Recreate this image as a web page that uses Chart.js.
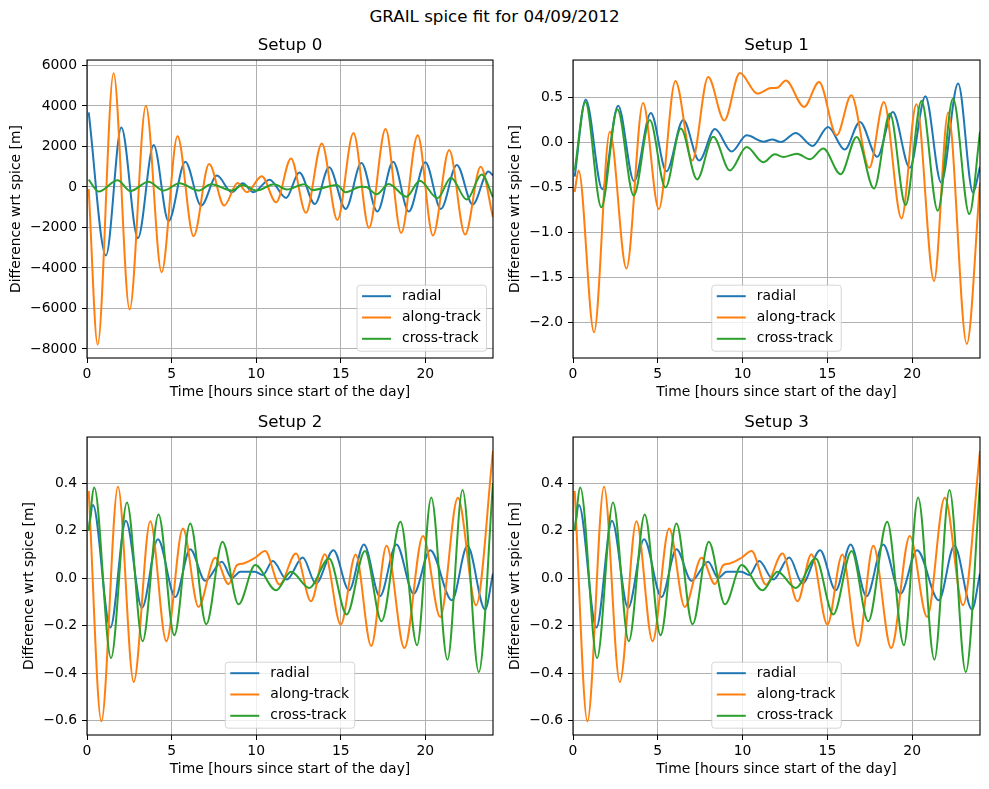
<!DOCTYPE html>
<html>
<head>
<meta charset="utf-8">
<script src="https://cdn.jsdelivr.net/npm/chart.js@4"></script>
<style>
  html, body { margin: 0; padding: 0; background: #fff; }
  body { width: 989px; height: 789px; position: relative; overflow: hidden; font-family: "DejaVu Sans", sans-serif; }
  #suptitle { position: absolute; left: 0; top: 6px; width: 989px; text-align: center; font-size: 16.7px; line-height: 20px; color: #000; }
  canvas { position: absolute; }
</style>
</head>
<body>
<div id="suptitle">GRAIL spice fit for 04/09/2012</div>
<canvas id="c0"></canvas>
<canvas id="c1"></canvas>
<canvas id="c2"></canvas>
<canvas id="c3"></canvas>
<script>
// ── Data: [hours, difference] at the turning points ──
const seriesLabels = ['radial', 'along-track', 'cross-track'];
const xTicks = [0, 5, 10, 15, 20];

const setup0Radial = [[0.1,3680],[1.12,-3385],[2.03,2940],[3.01,-2530],[3.94,2070],[4.82,-1690],[5.81,1250],[6.75,-920],[7.68,560],[8.56,-260],[9.21,180],[9.84,-260],[10.79,360],[11.77,-540],[12.55,720],[13.47,-840],[14.31,970],[15.29,-1085],[16.22,1180],[17.16,-1215],[18.1,1250],[19.02,-1215],[20.0,1215],[20.92,-1085],[21.86,1085],[22.8,-870],[23.73,760],[24.0,560]];
const setup0Along  = [[0.1,-100],[0.63,-7790],[1.57,5620],[2.52,-6060],[3.48,4010],[4.41,-4210],[5.35,2500],[6.3,-2430],[7.22,1130],[8.11,-920],[8.9,200],[9.45,-260],[10.33,530],[11.18,-760],[12.06,1410],[12.94,-1280],[13.88,2150],[14.8,-1630],[15.75,2660],[16.67,-2020],[17.65,2860],[18.57,-2270],[19.55,2560],[20.45,-2400],[21.41,1820],[22.35,-2350],[23.27,1000],[24.0,-1500]];
const setup0Cross  = [[0.1,360],[0.69,-230],[1.81,330],[2.56,-200],[3.64,260],[4.53,-180],[5.47,180],[6.59,-180],[7.34,130],[8.56,-180],[9.19,100],[10.04,-180],[11.06,130],[11.81,-130],[12.84,130],[13.33,-150],[14.76,100],[15.29,-260],[16.2,10],[16.5,0],[17.12,-360],[17.84,150],[18.88,-480],[19.67,310],[20.73,-560],[21.51,460],[22.45,-620],[23.33,610],[24.0,-510]];
const yTicks0 = [-8000, -6000, -4000, -2000, 0, 2000, 4000, 6000];

const setup1Radial = [[0.1,-0.38],[0.75,0.48],[1.73,-0.52],[2.66,0.41],[3.6,-0.43],[4.59,0.33],[5.51,-0.32],[6.5,0.25],[7.44,-0.2],[8.37,0.15],[9.35,-0.1],[10.24,0.08],[11.26,0.01],[11.75,0.035],[12.25,0.005],[13.14,0.107],[14.12,-0.037],[15.04,0.174],[16.02,-0.078],[16.92,0.23],[17.94,-0.159],[18.86,0.341],[19.86,-0.281],[20.78,0.515],[21.71,-0.444],[22.71,0.656],[23.59,-0.556],[24.0,-0.27]];
const setup1Along  = [[0.1,-0.55],[0.33,-0.31],[1.24,-2.11],[2.17,0.12],[3.15,-1.4],[4.13,0.44],[5.06,-0.74],[6.04,0.685],[7.03,-0.2],[7.97,0.73],[8.92,0.245],[9.84,0.775],[10.87,0.545],[11.67,0.607],[12.05,0.61],[12.55,0.69],[13.63,0.396],[14.51,0.674],[15.55,0.081],[16.41,0.526],[17.47,-0.281],[18.33,0.452],[19.37,-0.844],[20.25,0.426],[21.29,-1.541],[22.12,0.333],[23.22,-2.24],[24.0,-0.45]];
const setup1Cross  = [[0.1,-0.31],[0.73,0.45],[1.67,-0.72],[2.62,0.37],[3.58,-0.59],[4.53,0.25],[5.45,-0.5],[6.36,0.155],[7.32,-0.41],[8.27,0.065],[9.25,-0.31],[10.24,-0.05],[11.22,-0.22],[11.9,-0.13],[12.4,-0.16],[13.2,-0.125],[13.98,-0.185],[14.76,-0.067],[15.78,-0.352],[16.73,0.063],[17.75,-0.511],[18.69,0.322],[19.61,-0.696],[20.55,0.463],[21.51,-0.759],[22.41,0.489],[23.37,-0.796],[24.0,0.12]];
const yTicks1 = [-2.0, -1.5, -1.0, -0.5, 0.0, 0.5];

// setups 2 and 3 show the same curves
const setup2Radial = [[0.1,0.2],[0.35,0.308],[1.38,-0.208],[2.3,0.242],[3.25,-0.125],[4.19,0.164],[5.22,-0.079],[6.1,0.122],[6.99,-0.011],[7.97,0.069],[8.56,0.001],[9.06,0.027],[9.94,0.027],[10.39,0.013],[10.98,0.072],[11.81,-0.006],[12.75,0.087],[13.53,-0.022],[14.57,0.118],[15.49,-0.051],[16.37,0.142],[17.31,-0.076],[18.29,0.142],[19.31,-0.065],[20.29,0.118],[21.57,-0.093],[22.49,0.136],[23.53,-0.131],[24.0,0.02]];
const setup2Along  = [[0.1,0.367],[0.85,-0.603],[1.83,0.385],[2.76,-0.437],[3.74,0.24],[4.69,-0.265],[5.67,0.209],[6.59,-0.121],[7.58,0.086],[8.37,-0.025],[8.86,0.055],[9.25,0.062],[9.94,0.086],[10.53,0.114],[11.38,-0.027],[12.35,0.104],[13.24,-0.097],[14.06,0.101],[15.0,-0.195],[15.88,0.1],[16.8,-0.285],[17.71,0.136],[18.76,-0.294],[19.86,0.178],[20.88,-0.163],[21.92,0.338],[23.0,-0.114],[24.0,0.535]];
const setup2Cross  = [[0.1,0.2],[0.43,0.382],[1.42,-0.336],[2.36,0.319],[3.29,-0.265],[4.23,0.268],[5.16,-0.24],[6.1,0.23],[7.05,-0.194],[8.01,0.153],[8.96,-0.11],[9.94,0.055],[11.18,-0.051],[12.06,0.027],[13.14,-0.041],[14.31,0.083],[15.35,-0.153],[16.43,0.114],[17.41,-0.181],[18.53,0.237],[19.51,-0.282],[20.35,0.34],[21.31,-0.343],[22.2,0.371],[23.16,-0.395],[24.0,0.399]];
const setup3Radial = setup2Radial, setup3Along = setup2Along, setup3Cross = setup2Cross;
const yTicks23 = [-0.6, -0.4, -0.2, 0.0, 0.2, 0.4];

const COLORS = ['#1f77b4', '#ff7f0e', '#2ca02c'];
const FONT = 'DejaVu Sans';

Chart.defaults.font.family = FONT;
Chart.defaults.color = '#000';

// ── Plugins: full box frame + legend drawn inside the axes ──
const frame = {
  id: 'frame',
  afterDatasetsDraw(chart) {
    const {ctx, chartArea: a} = chart;
    ctx.save();
    ctx.strokeStyle = '#000';
    ctx.lineWidth = 1.1;
    ctx.strokeRect(a.left, a.top, a.right - a.left, a.bottom - a.top);
    ctx.restore();
  }
};

const insideLegend = {
  id: 'insideLegend',
  afterDraw(chart, args, opts) {
    const {ctx, chartArea: a} = chart;
    const items = chart.data.datasets;
    ctx.save();
    ctx.font = '13.9px "' + FONT + '"';
    const tw = Math.max(...items.map(d => ctx.measureText(d.label).width));
    const w = 45 + tw + 5.6, h = 66;
    const x = opts.align === 'right' ? a.right - 6.5 - w : (a.left + a.right) / 2 - w / 2;
    const y = a.bottom - 6.8 - h;
    ctx.beginPath();
    ctx.roundRect(x, y, w, h, 3);
    ctx.fillStyle = 'rgba(255,255,255,0.8)';
    ctx.fill();
    ctx.strokeStyle = 'rgba(204,204,204,0.8)';
    ctx.lineWidth = 1;
    ctx.stroke();
    items.forEach((d, i) => {
      const cy = y + 11 + i * 21.3;
      ctx.beginPath();
      ctx.moveTo(x + 5, cy); ctx.lineTo(x + 34, cy);
      ctx.strokeStyle = d.borderColor; ctx.lineWidth = 2;
      ctx.stroke();
      ctx.fillStyle = '#000';
      ctx.textBaseline = 'middle';
      ctx.fillText(d.label, x + 45, cy);
    });
    ctx.restore();
  }
};

const fmt = dec => v => (v < 0 ? '\u2212' : '') + Math.abs(v).toFixed(dec);

function makePanel(id, cfg) {
  const {title, series, yTicks, yMin, yMax, dec, L, T, R, B, cl, yTitleX, legend} = cfg;
  const ct = T - 32;
  const W = R + 6 - cl, H = (B - ct) + 47;
  const cv = document.getElementById(id);
  cv.width = W; cv.height = H;
  cv.style.left = cl + 'px'; cv.style.top = ct + 'px';
  cv.style.width = W + 'px'; cv.style.height = H + 'px';

  return new Chart(cv.getContext('2d'), {
    type: 'line',
    data: {
      datasets: series.map((s, i) => ({
        label: seriesLabels[i],
        data: s.map(p => ({x: p[0], y: p[1]})),
        borderColor: COLORS[i],
        backgroundColor: COLORS[i],
        borderWidth: 2,
        pointRadius: 0,
        cubicInterpolationMode: 'monotone',
        fill: false,
        order: 3 - i
      }))
    },
    options: {
      responsive: false,
      animation: false,
      devicePixelRatio: 1,
      layout: {padding: {left: 0, right: 6, top: 0, bottom: 2}},
      plugins: {
        legend: {display: false},
        tooltip: {enabled: false},
        title: {display: true, text: title, fullSize: false, color: '#000',
                font: {size: 16.7, weight: 'normal'}, padding: {top: 8, bottom: 4}},
        insideLegend: {align: legend}
      },
      scales: {
        x: {
          type: 'linear', min: 0, max: 24,
          afterBuildTicks: s => { s.ticks = xTicks.map(v => ({value: v})); },
          afterFit: s => { s.height = 45; },
          ticks: {autoSkip: false, maxRotation: 0, padding: 3, font: {size: 13.9}, color: '#000'},
          grid: {color: '#b0b0b0', lineWidth: 1, tickColor: '#000', tickLength: 5, tickWidth: 1},
          border: {display: false},
          title: {display: true, text: 'Time [hours since start of the day]', color: '#000',
                  font: {size: 13.9}, padding: {top: 0, bottom: 2}}
        },
        y: {
          type: 'linear', min: yMin, max: yMax,
          afterBuildTicks: s => { s.ticks = yTicks.map(v => ({value: v})); },
          afterFit: s => { s.width = L - cl; },
          ticks: {autoSkip: false, padding: 5, font: {size: 13.9}, color: '#000', callback: fmt(dec)},
          grid: {color: '#b0b0b0', lineWidth: 1, tickColor: '#000', tickLength: 5, tickWidth: 1},
          border: {display: false},
          title: {display: true, text: 'Difference wrt spice [m]', color: '#000',
                  font: {size: 13.9}, padding: {top: yTitleX - cl - 8.34, bottom: 0}}
        }
      }
    },
    plugins: [frame, insideLegend]
  });
}

makePanel('c0', {title: 'Setup 0', series: [setup0Radial, setup0Along, setup0Cross], yTicks: yTicks0,
  yMin: -8450, yMax: 6270, dec: 0, L: 87, T: 60, R: 493, B: 358, cl: 0, yTitleX: 16, legend: 'right'});
makePanel('c1', {title: 'Setup 1', series: [setup1Radial, setup1Along, setup1Cross], yTicks: yTicks1,
  yMin: -2.397, yMax: 0.918, dec: 1, L: 573, T: 60, R: 980, B: 358, cl: 500, yTitleX: 515, legend: 'center'});
makePanel('c2', {title: 'Setup 2', series: [setup2Radial, setup2Along, setup2Cross], yTicks: yTicks23,
  yMin: -0.66, yMax: 0.594, dec: 1, L: 87, T: 437, R: 493, B: 735, cl: 0, yTitleX: 29, legend: 'center'});
makePanel('c3', {title: 'Setup 3', series: [setup3Radial, setup3Along, setup3Cross], yTicks: yTicks23,
  yMin: -0.66, yMax: 0.594, dec: 1, L: 573, T: 437, R: 980, B: 735, cl: 500, yTitleX: 515, legend: 'center'});
</script>
</body>
</html>
